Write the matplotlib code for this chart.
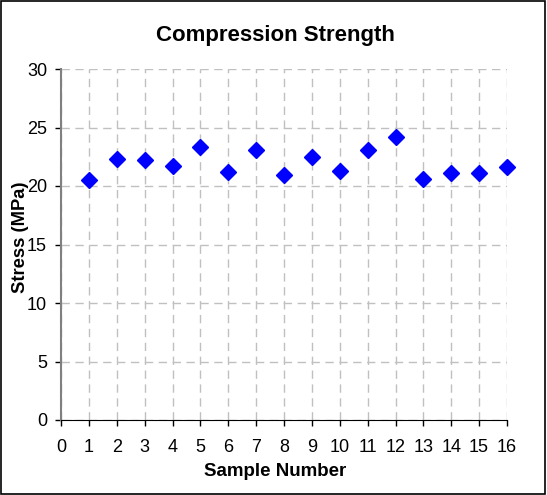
import matplotlib
matplotlib.use("Agg")
import matplotlib.pyplot as plt
from matplotlib.patches import Rectangle

samples = list(range(1, 17))
stress = [20.5, 22.3, 22.2, 21.7, 23.3, 21.2, 23.1, 20.9,
          22.5, 21.3, 23.1, 24.2, 20.6, 21.1, 21.1, 21.6]
x_ticks = list(range(0, 17))
y_ticks = [0, 5, 10, 15, 20, 25, 30]

plt.rcParams["font.family"] = ["Liberation Sans", "DejaVu Sans"]

fig = plt.figure(figsize=(5.47, 4.95), dpi=100)
ax = fig.add_axes([61 / 547, 1 - 420 / 495, (507 - 61) / 547, (420 - 69) / 495])

ax.plot(samples, stress, linestyle="none", marker="D", markersize=7.8,
        color="#0000ff", markeredgecolor="#0000ff", clip_on=False)

ax.set_xlim(0, 16)
ax.set_ylim(0, 30)
ax.set_xticks(x_ticks)
ax.set_yticks(y_ticks)
ax.tick_params(labelsize=13, length=4, width=1)
ax.tick_params(axis="x", pad=10)
ax.tick_params(axis="y", pad=6)
ax.grid(True, color="#c0c0c0", linestyle=(0, (6, 4)), linewidth=1)
ax.set_axisbelow(True)

for side in ["top", "right"]:
    ax.spines[side].set_visible(False)
ax.spines["left"].set_color("#808080")
ax.spines["left"].set_linewidth(1.5)
ax.spines["bottom"].set_color("black")

ax.set_title("Compression Strength", fontsize=16, fontweight="bold", pad=20, x=0.48)
ax.set_xlabel("Sample Number", fontsize=13.5, fontweight="bold", labelpad=5)
ax.xaxis.label.set_x(0.48)
ax.set_ylabel("Stress (MPa)", fontsize=13.2, fontweight="bold", labelpad=0)
ax.yaxis.set_label_coords(-32 / 446, 0.52)

fig.patches.append(Rectangle((0.002, 0.002), 0.995, 0.995, transform=fig.transFigure,
                             fill=False, edgecolor="black", linewidth=1.2))

fig.savefig("out.png", dpi=100)
